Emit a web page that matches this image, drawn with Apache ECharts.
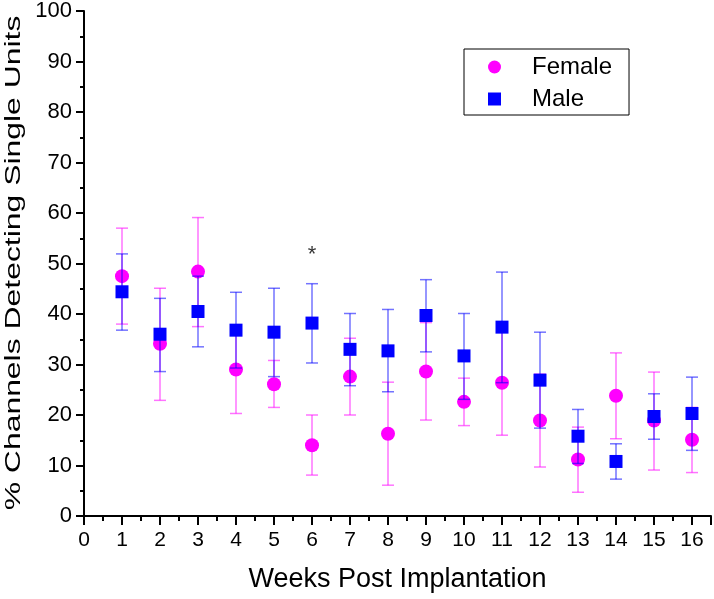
<!DOCTYPE html>
<html>
<head>
<meta charset="utf-8">
<script src="https://cdn.jsdelivr.net/npm/echarts@6/dist/echarts.min.js"></script>
<style>
  html, body { margin: 0; padding: 0; background: #fff; }
  #chart { width: 714px; height: 599px; }
</style>
</head>
<body>
<div id="chart"></div>
<script>
// weeks post implantation
const weeks = [1, 2, 3, 4, 5, 6, 7, 8, 9, 10, 11, 12, 13, 14, 15, 16]
// female: mean and error bar ends (%)
const femaleMean = [47.5, 34.1, 48.4, 29.0, 26.1, 14.0, 27.6, 16.3, 28.6, 22.6, 26.4, 18.9, 11.2, 23.8, 18.9, 15.1]
const femaleUpper = [57.0, 45.1, 59.1, 37.7, 30.8, 20.0, 35.2, 26.5, 38.3, 27.3, 36.8, 28.1, 17.6, 32.3, 28.5, 21.5]
const femaleLower = [38.0, 22.9, 37.5, 20.3, 21.5, 8.1, 20.0, 6.1, 19.0, 17.9, 16.0, 9.7, 4.7, 15.3, 9.1, 8.6]
// male: mean and error bar ends (%)
const maleMean = [44.4, 36.0, 40.5, 36.8, 36.4, 38.2, 33.0, 32.7, 39.7, 31.7, 37.4, 26.9, 15.8, 10.8, 19.7, 20.3]
const maleUpper = [51.9, 43.1, 47.5, 44.3, 45.1, 46.0, 40.1, 40.9, 46.8, 40.1, 48.3, 36.4, 21.1, 14.3, 24.2, 27.5]
const maleLower = [36.8, 28.6, 33.5, 29.3, 27.6, 30.3, 25.8, 24.6, 32.5, 23.1, 26.4, 17.4, 10.4, 7.3, 15.2, 13.0]
// significance marker
const starWeek = 6
const starValue = 52.8

const font = 'Liberation Sans, Arial, sans-serif'
const narrow = 'Liberation Sans Narrow, Arial Narrow, Liberation Sans, sans-serif'

function errorBars(color) {
  return function(params, api) {
    const x = api.value(0)
    const lo = api.coord([x, api.value(1)])
    const hi = api.coord([x, api.value(2)])
    const hw = 6
    const style = { stroke: color, lineWidth: 1.5 }
    return {
      type: 'group',
      children: [
        { type: 'line', shape: { x1: lo[0], y1: lo[1], x2: hi[0], y2: hi[1] }, style: style },
        { type: 'line', shape: { x1: hi[0] - hw, y1: hi[1], x2: hi[0] + hw, y2: hi[1] }, style: style },
        { type: 'line', shape: { x1: lo[0] - hw, y1: lo[1], x2: lo[0] + hw, y2: lo[1] }, style: style }
      ]
    }
  }
}

const myChart = echarts.init(document.getElementById('chart'))
myChart.setOption({
  animation: false,
  backgroundColor: '#fff',
  grid: { left: 84, right: 3, top: 11, bottom: 83, outerBoundsMode: 'none', containLabel: false },
  legend: {
    data: [
      { name: 'Female', icon: 'circle' },
      { name: 'Male', icon: 'rect' }
    ],
    orient: 'vertical',
    left: 464,
    top: 49,
    padding: [6, 17, 4, 24],
    itemGap: 8,
    itemWidth: 13,
    itemHeight: 13,
    borderColor: '#000',
    borderWidth: 1,
    borderRadius: 0,
    textStyle: { fontFamily: font, fontSize: 24, color: '#000', padding: [0, 0, 0, 26] }
  },
  // y title is stretched along its length like the original export
  graphic: [
    {
      type: 'text',
      x: 14,
      y: 263,
      rotation: Math.PI / 2,
      scaleX: 1.45,
      scaleY: 1,
      style: {
        text: '% Channels Detecting Single Units',
        fontFamily: font,
        fontSize: 22,
        fill: '#000',
        align: 'center',
        verticalAlign: 'middle'
      }
    }
  ],
  xAxis: {
    type: 'value',
    min: 0,
    max: 16.5,
    interval: 1,
    name: 'Weeks Post Implantation',
    nameLocation: 'middle',
    nameGap: 50,
    nameTextStyle: { fontFamily: narrow, fontSize: 27, color: '#000' },
    axisLine: { lineStyle: { color: '#000', width: 2 } },
    axisTick: { inside: false, length: 9, lineStyle: { color: '#000', width: 2 } },
    minorTick: { show: true, splitNumber: 2, length: 5, lineStyle: { color: '#000', width: 2 } },
    splitLine: { show: false },
    axisLabel: { margin: 14, fontFamily: narrow, fontSize: 21, color: '#000' }
  },
  yAxis: {
    type: 'value',
    min: 0,
    max: 100,
    interval: 10,
    axisLine: { show: true, lineStyle: { color: '#000', width: 2 } },
    axisTick: { show: true, inside: false, length: 8, lineStyle: { color: '#000', width: 2 } },
    minorTick: { show: true, splitNumber: 2, length: 4, lineStyle: { color: '#000', width: 2 } },
    splitLine: { show: false },
    axisLabel: { margin: 12, fontFamily: font, fontSize: 22, color: '#000' }
  },
  series: [
    {
      name: 'Female err',
      type: 'custom',
      renderItem: errorBars('rgba(255, 0, 255, 0.55)'),
      data: weeks.map((w, i) => [w, femaleLower[i], femaleUpper[i]]),
      z: 1
    },
    {
      name: 'Female',
      type: 'scatter',
      symbol: 'circle',
      symbolSize: 14,
      itemStyle: { color: '#ff00ff', opacity: 1 },
      data: weeks.map((w, i) => [w, femaleMean[i]]),
      z: 2
    },
    {
      name: 'Male err',
      type: 'custom',
      renderItem: errorBars('rgba(0, 0, 255, 0.55)'),
      data: weeks.map((w, i) => [w, maleLower[i], maleUpper[i]]),
      z: 3
    },
    {
      name: 'Male',
      type: 'scatter',
      symbol: 'rect',
      symbolSize: 13,
      itemStyle: { color: '#0000ff', opacity: 1 },
      data: weeks.map((w, i) => [w, maleMean[i]]),
      z: 4
    },
    {
      name: 'star',
      type: 'scatter',
      symbolSize: 0,
      silent: true,
      data: [[starWeek, starValue]],
      label: {
        show: true,
        position: 'inside',
        offset: [0, 6],
        formatter: '*',
        fontFamily: font,
        fontSize: 22,
        color: '#000'
      },
      z: 5
    }
  ]
})
window.addEventListener('resize', function() {
  myChart.resize()
})
</script>
</body>
</html>
